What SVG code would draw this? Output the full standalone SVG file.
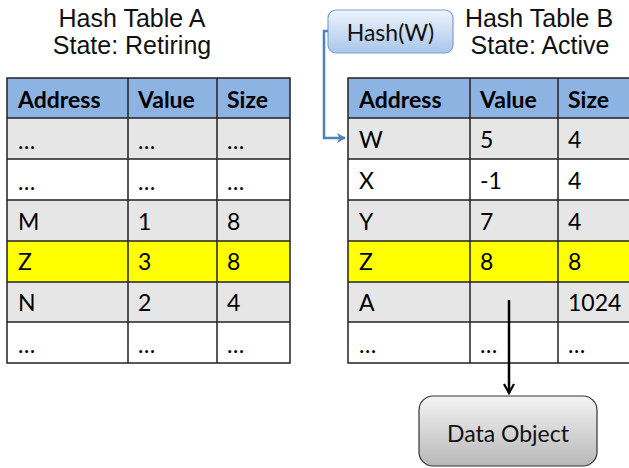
<svg xmlns="http://www.w3.org/2000/svg" width="629" height="468" viewBox="0 0 629 468">
<defs>
<style>
.title{font-family:"Liberation Sans",Arial,sans-serif;font-size:25px;fill:#111;text-anchor:middle}
.hd{font-family:Lato,"Open Sans",sans-serif;font-weight:bold;font-size:23px;fill:#000}
.cell{font-family:Lato,"Open Sans",sans-serif;font-size:23px;fill:#000}
.hdr{fill:#8db3e2}
.g{fill:#e6e6e6}
.w{fill:#ffffff}
.y{fill:#ffff00}
.grid{stroke:#222;stroke-width:1.5;fill:none}
.box{font-family:Lato,"Open Sans",sans-serif;font-size:23px;fill:#111;text-anchor:middle}
</style>
<linearGradient id="blueGrad" x1="0" y1="0" x2="0" y2="1">
<stop offset="0" stop-color="#eef4fc"/>
<stop offset="1" stop-color="#a9c6ec"/>
</linearGradient>
<linearGradient id="grayGrad" x1="0" y1="0" x2="0" y2="1">
<stop offset="0" stop-color="#f4f4f4"/>
<stop offset="1" stop-color="#b8b8b8"/>
</linearGradient>
<marker id="blueArrow" markerWidth="10" markerHeight="10" refX="8" refY="5" orient="auto" markerUnits="userSpaceOnUse" viewBox="0 0 10 10">
<path d="M0,0 L9,5 L0,10 L2.5,5 Z" fill="#4f81bd"/>
</marker>
<marker id="blackArrow" markerWidth="12" markerHeight="12" refX="10" refY="6" orient="auto" markerUnits="userSpaceOnUse" viewBox="0 0 12 12">
<path d="M1,1 L10,6 L1,11" fill="none" stroke="#000" stroke-width="2.2"/>
</marker>
</defs>
<rect width="629" height="468" fill="#fff"/>

<g id="tableA">
<text class="title" x="132" y="27">Hash Table A</text>
<text class="title" x="132" y="54">State: Retiring</text>
<rect class="hdr" x="7" y="78" width="283" height="40"/>
<rect class="g" x="7" y="118" width="283" height="41"/>
<rect class="w" x="7" y="159" width="283" height="41"/>
<rect class="g" x="7" y="200" width="283" height="41"/>
<rect class="y" x="7" y="241" width="283" height="41"/>
<rect class="g" x="7" y="282" width="283" height="40"/>
<rect class="w" x="7" y="322" width="283" height="41"/>
<path class="grid" d="M7,78H290V363H7Z M7,118H290 M7,159H290 M7,200H290 M7,241H290 M7,282H290 M7,322H290 M128,78V363 M217,78V363"/>
<text class="hd" x="18" y="108">Address</text>
<text class="hd" x="138" y="108">Value</text>
<text class="hd" x="227" y="108">Size</text>
<text class="cell" x="18" y="149">…</text><text class="cell" x="138" y="149">…</text><text class="cell" x="227" y="149">…</text>
<text class="cell" x="18" y="190">…</text><text class="cell" x="138" y="190">…</text><text class="cell" x="227" y="190">…</text>
<text class="cell" x="18" y="230">M</text><text class="cell" x="138" y="230">1</text><text class="cell" x="227" y="230">8</text>
<text class="cell" x="18" y="270">Z</text><text class="cell" x="138" y="270">3</text><text class="cell" x="227" y="270">8</text>
<text class="cell" x="18" y="311">N</text><text class="cell" x="138" y="311">2</text><text class="cell" x="227" y="311">4</text>
<text class="cell" x="18" y="353">…</text><text class="cell" x="138" y="353">…</text><text class="cell" x="227" y="353">…</text>
</g>

<g id="tableB">
<text class="title" x="539" y="27">Hash Table B</text>
<text class="title" x="540" y="54">State: Active</text>
<rect class="hdr" x="348" y="78" width="283" height="40"/>
<rect class="g" x="348" y="118" width="283" height="41"/>
<rect class="w" x="348" y="159" width="283" height="41"/>
<rect class="g" x="348" y="200" width="283" height="41"/>
<rect class="y" x="348" y="241" width="283" height="41"/>
<rect class="g" x="348" y="282" width="283" height="40"/>
<rect class="w" x="348" y="322" width="283" height="41"/>
<path class="grid" d="M631,78H348V363H631 M348,118H631 M348,159H631 M348,200H631 M348,241H631 M348,282H631 M348,322H631 M470,78V363 M558,78V363"/>
<text class="hd" x="359" y="108">Address</text>
<text class="hd" x="480" y="108">Value</text>
<text class="hd" x="568" y="108">Size</text>
<text class="cell" x="359" y="148">W</text><text class="cell" x="480" y="148">5</text><text class="cell" x="568" y="148">4</text>
<text class="cell" x="359" y="189">X</text><text class="cell" x="480" y="189">-1</text><text class="cell" x="568" y="189">4</text>
<text class="cell" x="359" y="230">Y</text><text class="cell" x="480" y="230">7</text><text class="cell" x="568" y="230">4</text>
<text class="cell" x="359" y="270">Z</text><text class="cell" x="480" y="270">8</text><text class="cell" x="568" y="270">8</text>
<text class="cell" x="359" y="311">A</text><text class="cell" x="568" y="311">1024</text>
<text class="cell" x="359" y="353">…</text><text class="cell" x="480" y="353">…</text><text class="cell" x="568" y="353">…</text>
</g>

<g id="hashW">
<rect x="328" y="10" width="125" height="43" rx="8" fill="url(#blueGrad)" stroke="#7da1d1" stroke-width="1.2"/>
<text class="box" x="390.5" y="41">Hash(W)</text>
</g>

<g id="dataObject">
<rect x="419" y="396" width="178" height="70" rx="14" fill="url(#grayGrad)" stroke="#333" stroke-width="1.2"/>
<text class="box" x="508" y="442">Data Object</text>
</g>

<g id="connectors">
<path d="M328,31H324V138H345" fill="none" stroke="#4f81bd" stroke-width="2.5" marker-end="url(#blueArrow)"/>
<path d="M509,300V393" fill="none" stroke="#000" stroke-width="2.5" marker-end="url(#blackArrow)"/>
</g>
</svg>
